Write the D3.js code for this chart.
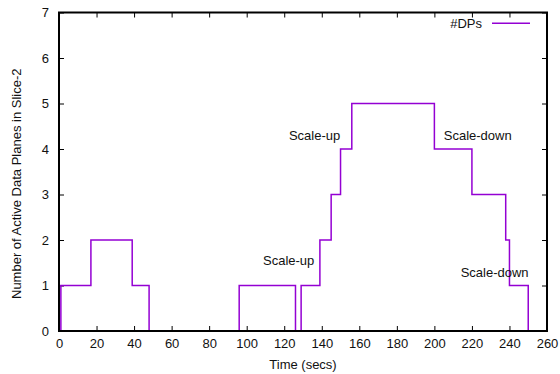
<!DOCTYPE html>
<meta charset="utf-8">
<script src="https://d3js.org/d3.v7.min.js"></script>
<style>
    body { margin: 0; background: #fff; }
    text { font-family: 'Liberation Sans', Arial, sans-serif; font-size: 13px; fill: #111; }
</style>
<svg id="vis"></svg>
<script>
    // Plot box
    var margin = {top: 12.5, right: 13, bottom: 43, left: 59},
        width = 560 - margin.left - margin.right,
        height = 374 - margin.top - margin.bottom;

    // Step data: time (secs) and number of DPs
    let times  = [0, 1, 17, 39, 48, 96, 126, 129, 139, 145, 150, 156, 200, 220, 238, 240, 250]
    let dps    = [0, 1, 2, 1, 0, 1, 0, 1, 2, 3, 4, 5, 4, 3, 2, 1, 0]

    let xTicks = [0, 20, 40, 60, 80, 100, 120, 140, 160, 180, 200, 220, 240, 260]
    let yTicks = [0, 1, 2, 3, 4, 5, 6, 7]

    // Annotations (text, time, value of baseline)
    let noteText = ['Scale-up', 'Scale-up', 'Scale-down', 'Scale-down']
    let noteT    = [122.5, 108.7, 205, 214]
    let noteV    = [4.2, 1.45, 4.2, 1.19]

    let svg = d3.select('#vis')
        .attr('width', 560)
        .attr('height', 374)
        .append('g')
        .attr('transform', 'translate(' + margin.left + ',' + margin.top + ')');

    var x = d3.scaleLinear().domain([0, 260]).range([0, width]);
    var y = d3.scaleLinear().domain([0, 7]).range([height, 0]);

    // Axes with inward ticks (gnuplot style, mirrored)
    var gx = svg.append('g')
        .attr('transform', 'translate(0,' + height + ')')
        .call(d3.axisBottom(x).tickValues(xTicks).tickSize(-5).tickPadding(8).tickFormat(d3.format('d')));
    var gy = svg.append('g')
        .call(d3.axisLeft(y).tickValues(yTicks).tickSize(-5).tickPadding(10).tickFormat(d3.format('d')));
    var gt = svg.append('g')
        .call(d3.axisTop(x).tickValues(xTicks).tickSize(-5).tickFormat(''));
    var gr = svg.append('g')
        .attr('transform', 'translate(' + width + ',0)')
        .call(d3.axisRight(y).tickValues(yTicks).tickSize(-5).tickFormat(''));

    [gx, gy, gt, gr].forEach(function (g) {
        g.select('.domain').remove();
        g.selectAll('.tick line').attr('stroke', '#000').attr('stroke-width', 1);
        g.selectAll('.tick text')
            .style('font-family', "'Liberation Sans', Arial, sans-serif")
            .style('font-size', '13px')
            .attr('fill', '#111');
    });

    // Step line
    var line = d3.line()
        .x(function (d, i) { return x(times[i]) })
        .y(function (d) { return y(d) })
        .curve(d3.curveStepAfter);

    svg.append('path')
        .datum(dps)
        .attr('d', line)
        .attr('fill', 'none')
        .attr('stroke', '#9400d3')
        .attr('stroke-width', 1.5);

    // Border
    svg.append('rect')
        .attr('x', 0)
        .attr('y', 0)
        .attr('width', width)
        .attr('height', height)
        .attr('fill', 'none')
        .attr('stroke', '#000')
        .attr('stroke-width', 2);

    // Annotations
    svg.selectAll('.note')
        .data(noteText)
        .enter()
        .append('text')
        .attr('class', 'note')
        .attr('x', function (d, i) { return x(noteT[i]) })
        .attr('y', function (d, i) { return y(noteV[i]) })
        .text(function (d) { return d });

    // Legend
    svg.append('text')
        .attr('text-anchor', 'end')
        .attr('x', 423)
        .attr('y', 15.5)
        .text('#DPs');
    svg.append('line')
        .attr('x1', 433)
        .attr('x2', 471)
        .attr('y1', 10.8)
        .attr('y2', 10.8)
        .attr('stroke', '#9400d3')
        .attr('stroke-width', 1.5);

    // Axis labels
    svg.append('text')
        .attr('text-anchor', 'middle')
        .attr('x', width / 2)
        .attr('y', height + 38)
        .text('Time (secs)');

    svg.append('text')
        .attr('text-anchor', 'middle')
        .attr('transform', 'translate(' + (-38) + ',' + (height / 2 + 12) + ') rotate(-90)')
        .text('Number of Active Data Planes in Slice-2');
</script>
